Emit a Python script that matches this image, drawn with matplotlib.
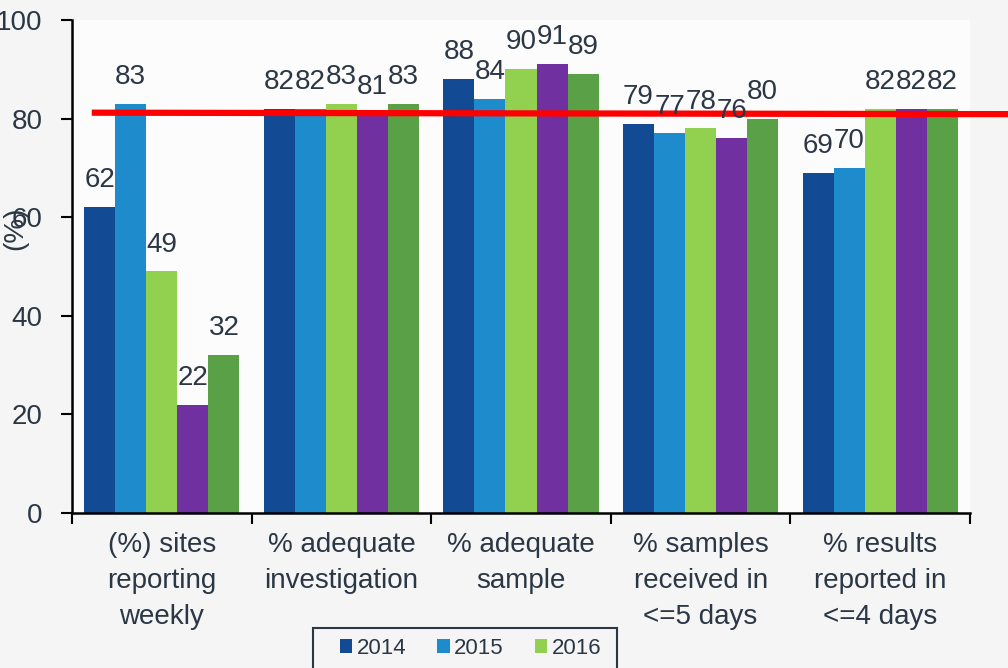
import numpy as np
import matplotlib.pyplot as plt
from matplotlib.patches import Rectangle

plt.rcParams['font.family'] = ['Liberation Sans', 'DejaVu Sans']

categories = ["(%) sites\nreporting\nweekly", "% adequate\ninvestigation",
              "% adequate\nsample", "% samples\nreceived in\n<=5 days",
              "% results\nreported in\n<=4 days"]
years = ["2014", "2015", "2016", "2017", "2018"]
values = {
    "2014": [62, 82, 88, 79, 69],
    "2015": [83, 82, 84, 77, 70],
    "2016": [49, 83, 90, 78, 82],
    "2017": [22, 81, 91, 76, 82],
    "2018": [32, 83, 89, 80, 82],
}
colors = ["#134a94", "#1e8bcd", "#92d050", "#7030a0", "#5aa046"]
target_start, target_end = 81.2, 80.9

txt = "#2b3745"
W, H = 1008, 668
fig = plt.figure(figsize=(W/100, H/100), dpi=100, facecolor="#f5f5f5")
ax = fig.add_axes([72/W, 1-513/H, 898/W, 493/H])
ax.set_facecolor("#fcfcfc")

x = np.arange(len(categories)) + 0.5
w = 0.173
handles = []
for i, yr in enumerate(years):
    pos = x + (i - 2) * w
    bars = ax.bar(pos, values[yr], w, color=colors[i], label=yr, zorder=2)
    handles.append(bars)
    for b, v in zip(bars, values[yr]):
        ax.annotate(str(v), (b.get_x() + b.get_width()/2, v), xytext=(0, 10),
                    textcoords="offset points", ha="center", va="bottom",
                    fontsize=20, color=txt, zorder=4)

# target line, runs past the right edge of the axes
ax.plot([0.11, 5.25], [target_start, target_end], color="#ff0000", lw=4.5,
        solid_capstyle="butt", clip_on=False, zorder=3)

ax.set_xlim(0, 5)
ax.set_ylim(0, 100)
ax.set_yticks(range(0, 101, 20))
ax.set_xticks(x)
ax.set_xticklabels(categories, fontsize=20, color=txt, linespacing=1.48)
ax.set_xticks(np.arange(0, 6), minor=True)
ax.tick_params(axis="x", which="major", length=0, pad=14)
ax.tick_params(axis="x", which="minor", length=8, width=1.5, direction="out")
ax.tick_params(axis="y", length=8, width=1.5, pad=13, labelsize=20, labelcolor=txt)

for s in ["top", "right"]:
    ax.spines[s].set_visible(False)
for s in ["left", "bottom"]:
    ax.spines[s].set_linewidth(1.8)

fig.text(15/W, 1-228/H, "(%)", rotation=90, fontsize=20, color=txt,
         ha="center", va="center")

# three columns; the second row (2017, 2018) falls below the figure edge
order = [0, 3, 1, 4, 2]
leg = fig.legend([handles[k] for k in order], [years[k] for k in order],
                 loc="upper left", bbox_to_anchor=(340/W, 1-638/H), ncol=3,
                 fontsize=16, frameon=False, handlelength=0.55,
                 handleheight=0.55, handletextpad=0.2, columnspacing=1.4,
                 borderpad=0, borderaxespad=0, labelspacing=1.3,
                 labelcolor=txt)
fig.patches.append(Rectangle((313/W, -0.05), 304/W, 0.05 + 40/H,
                             transform=fig.transFigure, fill=False,
                             edgecolor="#2b3745", lw=1.5))

fig.savefig("out.png", dpi=100, facecolor=fig.get_facecolor())
